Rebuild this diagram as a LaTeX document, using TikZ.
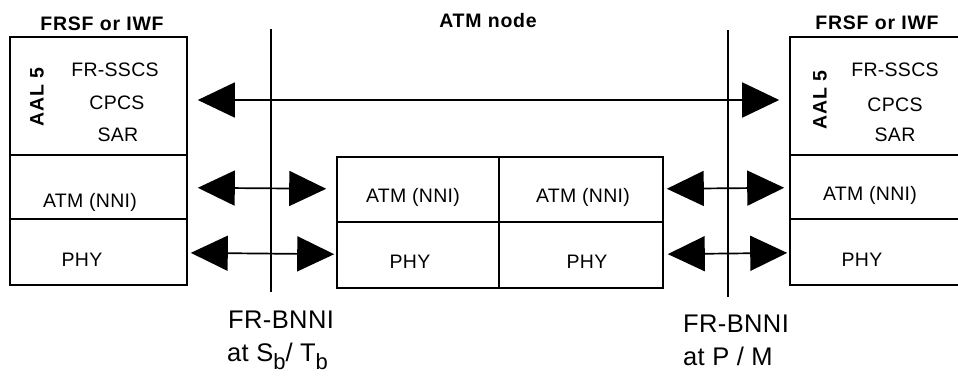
\documentclass[tikz,border=0pt]{standalone}
\usepackage{fontspec}
\setmainfont[LetterSpace=1.5]{Liberation Sans}
\usetikzlibrary{arrows.meta}

\newcommand{\sublow}[1]{\raisebox{-8pt}{\fontsize{22}{22}\selectfont #1}}

\begin{document}
\begin{tikzpicture}[
            x=1pt, y=-1pt,
            layer/.style={
                rectangle,
                draw,
                line width=1.6pt,
                inner sep=0pt
            },
            label/.style={
                font=\fontsize{19.5}{22}\selectfont,
                inner sep=0pt
            },
            title/.style={
                font=\fontsize{19.5}{22}\selectfont\bfseries\addfontfeature{LetterSpace=4},
                inner sep=0pt
            },
            iface/.style={
                font=\fontsize{25.5}{33}\selectfont,
                inner sep=0pt,
                align=left
            },
            link/.style={
                {Triangle[length=37pt,width=35pt]}-{Triangle[length=37pt,width=35pt]},
                line width=1.7pt
            }
        ]

            \clip (0, 0) rectangle (958, 381);

            \node[title] (ltitle) at (102, 24) {FRSF or IWF};
            \node[title] (mtitle) at (488, 21) {ATM node};
            \node[title] (rtitle) at (877, 23) {FRSF or IWF};

            \node[layer, minimum width=177pt, minimum height=118pt] (laal) at (98.5, 96) {};
            \node[layer, minimum width=177pt, minimum height=64pt] (latm) at (98.5, 187) {};
            \node[layer, minimum width=177pt, minimum height=66pt] (lphy) at (98.5, 252) {};

            \node[layer, minimum width=162pt, minimum height=65pt] (matml) at (418, 189.5) {};
            \node[layer, minimum width=164pt, minimum height=65pt] (matmr) at (581, 189.5) {};
            \node[layer, minimum width=162pt, minimum height=66pt] (mphyl) at (418, 255) {};
            \node[layer, minimum width=164pt, minimum height=66pt] (mphyr) at (581, 255) {};

            \node[layer, minimum width=170pt, minimum height=118pt] (raal) at (875, 96) {};
            \node[layer, minimum width=170pt, minimum height=64pt] (ratm) at (875, 187) {};
            \node[layer, minimum width=170pt, minimum height=66pt] (rphy) at (875, 252) {};

            \node[title, rotate=90] (laallbl) at (37, 97) {AAL 5};
            \node[label] (lsscs) at (115, 70) {FR-SSCS};
            \node[label] (lcpcs) at (117, 103) {CPCS};
            \node[label] (lsar) at (118, 135) {SAR};
            \node[label] (latmlbl) at (90, 202) {ATM (NNI)};
            \node[label] (lphylbl) at (82, 260) {PHY};

            \node[label] (matmllbl) at (413, 197) {ATM (NNI)};
            \node[label] (matmrlbl) at (583, 197) {ATM (NNI)};
            \node[label] (mphyllbl) at (410, 262) {PHY};
            \node[label] (mphyrlbl) at (587, 262) {PHY};

            \node[title, rotate=90] (raallbl) at (820, 100) {AAL 5};
            \node[label] (rsscs) at (895, 70) {FR-SSCS};
            \node[label] (rcpcs) at (895, 105) {CPCS};
            \node[label] (rsar) at (895, 135) {SAR};
            \node[label] (ratmlbl) at (870, 195) {ATM (NNI)};
            \node[label] (rphylbl) at (862, 260) {PHY};

            \coordinate (sbtop) at (271, 29);
            \coordinate (sbbot) at (271, 292);
            \coordinate (pmtop) at (728, 30);
            \coordinate (pmbot) at (728, 297);
            \draw[line width=1.6pt] (sbtop) -- (sbbot);
            \draw[line width=1.6pt] (pmtop) -- (pmbot);

            \draw[link, shorten <=10pt, shorten >=10pt]
                ([yshift=-4pt]laal.east) -- ([yshift=-4pt]raal.west);
            \draw[link, shorten <=10pt, shorten >=10pt] (latm) -- (matml);
            \draw[link, shorten <=3pt, shorten >=2pt] (lphy) -- (mphyl);
            \draw[link, shorten <=3pt, shorten >=5pt] (matmr) -- (ratm);
            \draw[link, shorten <=4pt, shorten >=2pt] (mphyr) -- (rphy);

            \node[iface, anchor=north west] (sblbl) at (227, 311)
                {\hspace*{1pt}FR-BNNI\\at S\sublow{b}/ T\sublow{b}};
            \node[iface, anchor=north west] (pmlbl) at (683, 315)
                {FR-BNNI\\at P / M};

        \end{tikzpicture}
\end{document}
